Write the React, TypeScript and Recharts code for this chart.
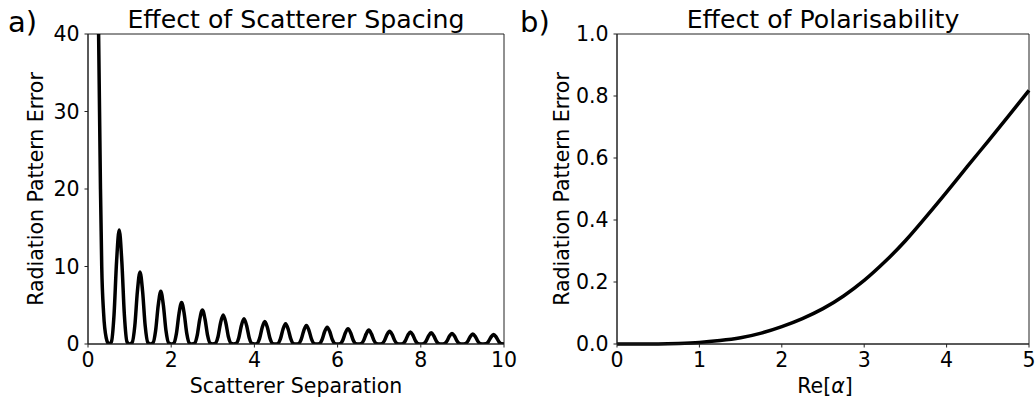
import React from 'react';
import { LineChart, Line, XAxis, YAxis, ReferenceArea } from 'recharts';

// Panel a) — Effect of scatterer spacing (values read from the reference)
const separation = [
  0.2, 0.255, 0.3, 0.33, 0.375, 0.4375, 0.5,
  0.5625, 0.625, 0.6875, 0.75, 0.8125, 0.875, 0.9375, 1.0,
  1.0625, 1.125, 1.1875, 1.25, 1.3125, 1.375, 1.4375, 1.5,
  1.5625, 1.625, 1.6875, 1.75, 1.8125, 1.875, 1.9375, 2.0,
  2.0625, 2.125, 2.1875, 2.25, 2.3125, 2.375, 2.4375, 2.5,
  2.5625, 2.625, 2.6875, 2.75, 2.8125, 2.875, 2.9375, 3.0,
  3.0625, 3.125, 3.1875, 3.25, 3.3125, 3.375, 3.4375, 3.5,
  3.5625, 3.625, 3.6875, 3.75, 3.8125, 3.875, 3.9375, 4.0,
  4.0625, 4.125, 4.1875, 4.25, 4.3125, 4.375, 4.4375, 4.5,
  4.5625, 4.625, 4.6875, 4.75, 4.8125, 4.875, 4.9375, 5.0,
  5.0625, 5.125, 5.1875, 5.25, 5.3125, 5.375, 5.4375, 5.5,
  5.5625, 5.625, 5.6875, 5.75, 5.8125, 5.875, 5.9375, 6.0,
  6.0625, 6.125, 6.1875, 6.25, 6.3125, 6.375, 6.4375, 6.5,
  6.5625, 6.625, 6.6875, 6.75, 6.8125, 6.875, 6.9375, 7.0,
  7.0625, 7.125, 7.1875, 7.25, 7.3125, 7.375, 7.4375, 7.5,
  7.5625, 7.625, 7.6875, 7.75, 7.8125, 7.875, 7.9375, 8.0,
  8.0625, 8.125, 8.1875, 8.25, 8.3125, 8.375, 8.4375, 8.5,
  8.5625, 8.625, 8.6875, 8.75, 8.8125, 8.875, 8.9375, 9.0,
  9.0625, 9.125, 9.1875, 9.25, 9.3125, 9.375, 9.4375, 9.5,
  9.5625, 9.625, 9.6875, 9.75, 9.8125, 9.875, 9.9375, 10.0,
];
const spacingError = [
  75, 40, 20, 10, 4, 0.8, 0,
  0.29, 3.7, 10.7, 14.7, 10.7, 3.7, 0.29, 0,
  0.19, 2.33, 6.79, 9.3, 6.79, 2.33, 0.19, 0,
  0.14, 1.7, 4.96, 6.8, 4.96, 1.7, 0.14, 0,
  0.11, 1.34, 3.91, 5.35, 3.91, 1.34, 0.11, 0,
  0.09, 1.1, 3.21, 4.4, 3.21, 1.1, 0.09, 0,
  0.08, 0.94, 2.74, 3.75, 2.74, 0.94, 0.08, 0,
  0.07, 0.82, 2.39, 3.27, 2.39, 0.82, 0.07, 0,
  0.06, 0.73, 2.12, 2.9, 2.12, 0.73, 0.06, 0,
  0.05, 0.65, 1.9, 2.6, 1.9, 0.65, 0.05, 0,
  0.05, 0.6, 1.74, 2.38, 1.74, 0.6, 0.05, 0,
  0.04, 0.54, 1.58, 2.17, 1.58, 0.54, 0.04, 0,
  0.04, 0.5, 1.45, 1.98, 1.45, 0.5, 0.04, 0,
  0.04, 0.45, 1.31, 1.8, 1.31, 0.45, 0.04, 0,
  0.03, 0.42, 1.21, 1.66, 1.21, 0.42, 0.03, 0,
  0.03, 0.39, 1.12, 1.54, 1.12, 0.39, 0.03, 0,
  0.03, 0.36, 1.05, 1.44, 1.05, 0.36, 0.03, 0,
  0.03, 0.34, 0.99, 1.36, 0.99, 0.34, 0.03, 0,
  0.03, 0.32, 0.94, 1.29, 0.94, 0.32, 0.03, 0,
  0.02, 0.31, 0.89, 1.22, 0.89, 0.31, 0.02, 0,
];

// Panel b) — Effect of polarisability
const alphaRe = [0, 0.25, 0.5, 0.75, 1, 1.25, 1.5, 1.75, 2, 2.25, 2.5, 2.75, 3, 3.25, 3.5, 3.75, 4, 4.25, 4.5, 4.75, 5];
const polarError = [0, 0.0001, 0.0004, 0.002, 0.005, 0.011, 0.02, 0.035, 0.056, 0.082, 0.114, 0.155, 0.205, 0.265, 0.333, 0.41, 0.49, 0.572, 0.653, 0.735, 0.818];

const sepTicks = [0, 2, 4, 6, 8, 10];
const sepErrTicks = [0, 10, 20, 30, 40];
const alphaTicks = [0, 1, 2, 3, 4, 5];
const polErrTicks = [0, 0.2, 0.4, 0.6, 0.8, 1.0];

const titles = ['Effect of Scatterer Spacing', 'Effect of Polarisability'];
const panelTags = ['a)', 'b)'];
const xLabelA = 'Scatterer Separation';
const yLabel = 'Radiation Pattern Error';

const FONT = 'DejaVu Sans';
const tickStyle = { fill: '#000', fontSize: 20.5, fontFamily: FONT };
const axisStroke = { stroke: '#222', strokeWidth: 1 };

const dataA = separation.map((x, i) => ({ x, y: spacingError[i] }));
const dataB = alphaRe.map((x, i) => ({ x, y: polarError[i] }));

export default function App() {
  return (
    <div style={{ position: 'absolute', left: 0, top: 0, width: 1035, height: 401, background: '#fff' }}>
      <div style={{ position: 'absolute', left: 0, top: 0 }}>
        <LineChart width={520} height={401} data={dataA} margin={{ top: 34, right: 16, bottom: 0, left: 0 }}>
          <XAxis
            dataKey="x"
            type="number"
            domain={[0, 10]}
            ticks={sepTicks}
            interval={0}
            height={57}
            tick={tickStyle}
            tickSize={3.5}
            tickMargin={5}
            axisLine={axisStroke}
            tickLine={axisStroke}
            allowDataOverflow
          />
          <YAxis
            type="number"
            domain={[0, 40]}
            ticks={sepErrTicks}
            interval={0}
            width={88}
            tick={tickStyle}
            tickSize={3.5}
            tickMargin={5}
            axisLine={axisStroke}
            tickLine={axisStroke}
            allowDataOverflow
          />
          <ReferenceArea x1={0} x2={10} y1={0} y2={40} fill="none" stroke="#222" strokeWidth={1} />
          <Line dataKey="y" type="monotone" stroke="#000" strokeWidth={3.5} dot={false} isAnimationActive={false} />
        </LineChart>
      </div>
      <div style={{ position: 'absolute', left: 520, top: 0 }}>
        <LineChart width={515} height={401} data={dataB} margin={{ top: 34, right: 6, bottom: 0, left: 0 }}>
          <XAxis
            dataKey="x"
            type="number"
            domain={[0, 5]}
            ticks={alphaTicks}
            interval={0}
            height={57}
            tick={tickStyle}
            tickSize={3.5}
            tickMargin={5}
            axisLine={axisStroke}
            tickLine={axisStroke}
          />
          <YAxis
            type="number"
            domain={[0, 1]}
            ticks={polErrTicks}
            interval={0}
            width={97}
            tick={tickStyle}
            tickSize={3.5}
            tickMargin={5}
            tickFormatter={(v: number) => v.toFixed(1)}
            axisLine={axisStroke}
            tickLine={axisStroke}
          />
          <ReferenceArea x1={0} x2={5} y1={0} y2={1} fill="none" stroke="#222" strokeWidth={1} />
          <Line dataKey="y" type="natural" stroke="#000" strokeWidth={3.5} dot={false} isAnimationActive={false} />
        </LineChart>
      </div>
      <svg width={1035} height={401} style={{ position: 'absolute', left: 0, top: 0, pointerEvents: 'none' }} fontFamily={FONT} fill="#000">
        <text x={8} y={32} fontSize={29}>{panelTags[0]}</text>
        <text x={520} y={32} fontSize={29}>{panelTags[1]}</text>
        <text x={296} y={27.5} fontSize={25.2} textAnchor="middle">{titles[0]}</text>
        <text x={823} y={27.5} fontSize={25.2} textAnchor="middle">{titles[1]}</text>
        <text x={296} y={393} fontSize={20.5} textAnchor="middle">{xLabelA}</text>
        <text x={825} y={393} fontSize={20.5} textAnchor="middle">
          Re[<tspan fontStyle="italic">α</tspan>]
        </text>
        <text transform="translate(43,189) rotate(-90)" fontSize={20.5} textAnchor="middle">{yLabel}</text>
        <text transform="translate(569,189) rotate(-90)" fontSize={20.5} textAnchor="middle">{yLabel}</text>
      </svg>
    </div>
  );
}
